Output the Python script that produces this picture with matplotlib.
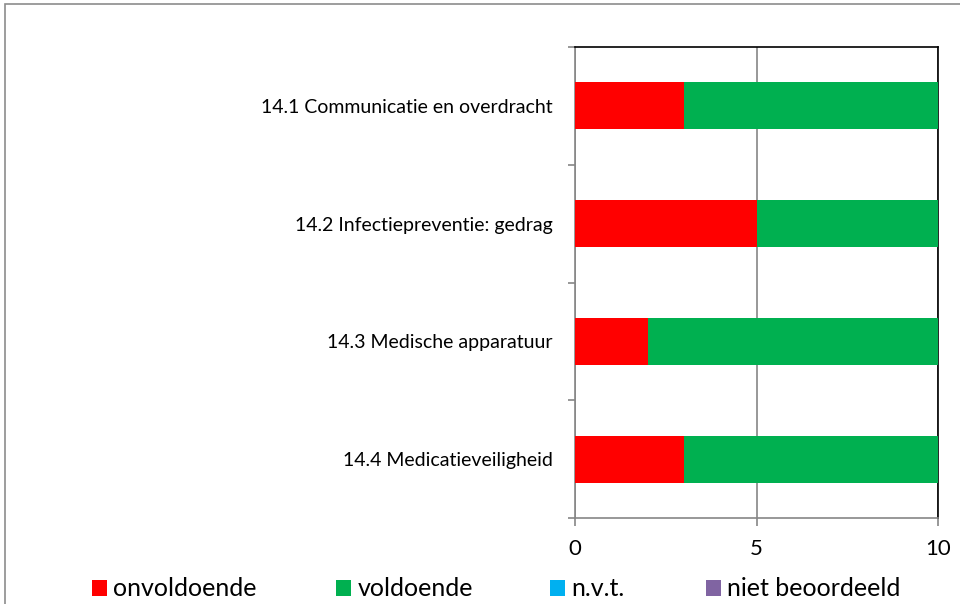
import matplotlib
matplotlib.use("Agg")
import matplotlib.pyplot as plt
from matplotlib.patches import Rectangle
import numpy as np

plt.rcParams['font.family'] = ['Lato', 'DejaVu Sans']

categories = ["14.1 Communicatie en overdracht", "14.2 Infectiepreventie: gedrag",
              "14.3 Medische apparatuur", "14.4 Medicatieveiligheid"]
series_names = ["onvoldoende", "voldoende", "n.v.t.", "niet beoordeeld"]
onvoldoende = [3, 5, 2, 3]
voldoende = [7, 5, 8, 7]
nvt = [0, 0, 0, 0]
niet_beoordeeld = [0, 0, 0, 0]
colors = ["#FF0000", "#00B050", "#00B0F0", "#8064A2"]
x_ticks = [0, 5, 10]

fig = plt.figure(figsize=(9.6, 6.04), dpi=100)
# outer chart border
fig.patches.append(Rectangle((5/960, -0.1), 1.2, 1 - 4/604 + 0.1, transform=fig.transFigure,
                             fill=False, edgecolor="#8c8c8c", linewidth=1.2))

ax = fig.add_axes([575/960, 1 - 518/604, (938 - 575)/960, (518 - 47)/604])
y = np.arange(len(categories))
left = np.zeros(len(categories))
for vals, name, c in zip([onvoldoende, voldoende, nvt, niet_beoordeeld], series_names, colors):
    ax.barh(y, vals, left=left, height=0.4, color=c, label=name, zorder=3)
    left = left + np.array(vals)

ax.set_xlim(0, 10)
ax.set_ylim(len(categories) - 0.5, -0.5)
ax.set_xticks(x_ticks)
ax.set_xticklabels([str(t) for t in x_ticks], fontsize=16)
ax.set_yticks(y)
ax.set_yticklabels(categories, fontsize=14)
ax.tick_params(axis='y', length=0, pad=16)
ax.set_yticks(np.arange(len(categories) + 1) - 0.5, minor=True)
ax.tick_params(axis='y', which='minor', length=5, color="#868686", width=1.2)
ax.tick_params(axis='x', length=6, color="#868686", width=1.2, pad=9, direction='out')
ax.grid(axis='x', color="#868686", linewidth=1.2, zorder=0)
for s in ['left', 'bottom']:
    ax.spines[s].set_color("#868686")
    ax.spines[s].set_linewidth(1.2)
for s in ['top', 'right']:
    ax.spines[s].set_color("black")
    ax.spines[s].set_linewidth(1.2)

xpos = [92, 336, 550, 706]
for name, c, xp in zip(series_names, colors, xpos):
    h = Rectangle((0, 0), 1, 1, facecolor=c)
    fig.legend([h], [name], loc='center left', bbox_to_anchor=(xp/960, 1 - 589/604),
               frameon=False, fontsize=18, handlelength=0.6, handleheight=0.6,
               handletextpad=0.25, borderpad=0, borderaxespad=0)

fig.savefig("out.png", dpi=100)
